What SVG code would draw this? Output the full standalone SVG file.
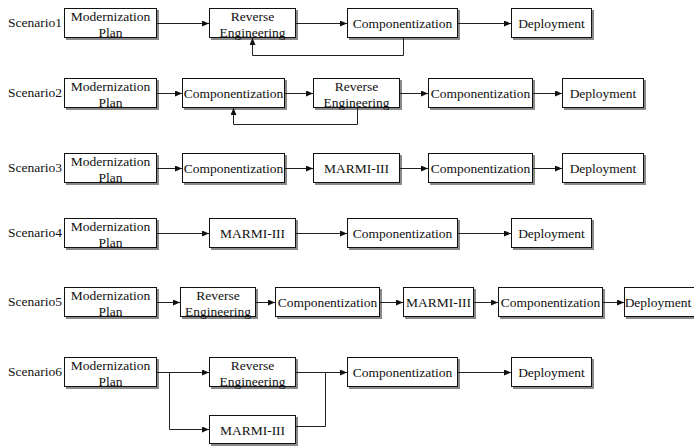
<svg xmlns="http://www.w3.org/2000/svg" width="694" height="446" viewBox="0 0 694 446">
  <defs>
    <marker id="arrow" markerWidth="7" markerHeight="6" refX="7" refY="3" orient="auto" markerUnits="userSpaceOnUse">
      <path d="M0,0 L7,3 L0,6 z" fill="#111"/>
    </marker>
  </defs>
  <style>
    .shadow { fill: #8a8a8a; }
    .box { fill: #ffffff; stroke: #111; stroke-width: 1; }
    text { font-family: 'Liberation Serif', 'DejaVu Serif', serif; font-size: 13.5px; fill: #111; }
    .t { text-anchor: middle; }
    .lbl { text-anchor: end; }
    .edge { fill: none; stroke: #222; stroke-width: 1; }
    .arr { marker-end: url(#arrow); }
  </style>
  <rect width="694" height="446" fill="#ffffff"/>

  <!-- row labels -->
  <g id="labels" font-family="Liberation Serif, serif">
    <text class="lbl" x="62" y="27">Scenario1</text>
    <text class="lbl" x="62" y="97">Scenario2</text>
    <text class="lbl" x="62" y="172">Scenario3</text>
    <text class="lbl" x="62" y="237">Scenario4</text>
    <text class="lbl" x="62" y="306">Scenario5</text>
    <text class="lbl" x="62" y="376">Scenario6</text>
  </g>

  <!-- Scenario 1 -->
  <g id="s1-plan"><rect class="shadow" x="66" y="10" width="93" height="30"/><rect class="box" x="64.5" y="8.5" width="92" height="29"/><text class="t" x="110.5" y="21">Modernization</text><text class="t" x="110.5" y="37">Plan</text></g>
  <g id="s1-reverse"><rect class="shadow" x="211" y="10" width="87" height="30"/><rect class="box" x="209.5" y="8.5" width="86" height="29"/><text class="t" x="252.5" y="21">Reverse</text><text class="t" x="252.5" y="37">Engineering</text></g>
  <g id="s1-comp"><rect class="shadow" x="349" y="10" width="111" height="30"/><rect class="box" x="347.5" y="8.5" width="110" height="29"/><text class="t" x="402.5" y="28">Componentization</text></g>
  <g id="s1-deploy"><rect class="shadow" x="513" y="10" width="81" height="30"/><rect class="box" x="511.5" y="8.5" width="80" height="29"/><text class="t" x="551.5" y="28">Deployment</text></g>

  <!-- Scenario 2 -->
  <g id="s2-plan"><rect class="shadow" x="66" y="80" width="93" height="30"/><rect class="box" x="64.5" y="78.5" width="92" height="29"/><text class="t" x="110.5" y="91">Modernization</text><text class="t" x="110.5" y="107">Plan</text></g>
  <g id="s2-comp1"><rect class="shadow" x="184" y="80" width="103" height="30"/><rect class="box" x="182.5" y="78.5" width="102" height="29"/><text class="t" x="233.5" y="98">Componentization</text></g>
  <g id="s2-reverse"><rect class="shadow" x="315" y="80" width="87" height="30"/><rect class="box" x="313.5" y="78.5" width="86" height="29"/><text class="t" x="356.5" y="91">Reverse</text><text class="t" x="356.5" y="107">Engineering</text></g>
  <g id="s2-comp2"><rect class="shadow" x="430" y="80" width="105" height="30"/><rect class="box" x="428.5" y="78.5" width="104" height="29"/><text class="t" x="480.5" y="98">Componentization</text></g>
  <g id="s2-deploy"><rect class="shadow" x="564" y="80" width="82" height="30"/><rect class="box" x="562.5" y="78.5" width="81" height="29"/><text class="t" x="603" y="98">Deployment</text></g>

  <!-- Scenario 3 -->
  <g id="s3-plan"><rect class="shadow" x="66" y="155" width="93" height="30"/><rect class="box" x="64.5" y="153.5" width="92" height="29"/><text class="t" x="110.5" y="166">Modernization</text><text class="t" x="110.5" y="182">Plan</text></g>
  <g id="s3-comp1"><rect class="shadow" x="184" y="155" width="103" height="30"/><rect class="box" x="182.5" y="153.5" width="102" height="29"/><text class="t" x="233.5" y="173">Componentization</text></g>
  <g id="s3-marmi"><rect class="shadow" x="315" y="155" width="87" height="30"/><rect class="box" x="313.5" y="153.5" width="86" height="29"/><text class="t" x="356.5" y="173">MARMI-III</text></g>
  <g id="s3-comp2"><rect class="shadow" x="430" y="155" width="105" height="30"/><rect class="box" x="428.5" y="153.5" width="104" height="29"/><text class="t" x="480.5" y="173">Componentization</text></g>
  <g id="s3-deploy"><rect class="shadow" x="564" y="155" width="82" height="30"/><rect class="box" x="562.5" y="153.5" width="81" height="29"/><text class="t" x="603" y="173">Deployment</text></g>

  <!-- Scenario 4 -->
  <g id="s4-plan"><rect class="shadow" x="66" y="220" width="93" height="30"/><rect class="box" x="64.5" y="218.5" width="92" height="29"/><text class="t" x="110.5" y="231">Modernization</text><text class="t" x="110.5" y="247">Plan</text></g>
  <g id="s4-marmi"><rect class="shadow" x="211" y="220" width="87" height="30"/><rect class="box" x="209.5" y="218.5" width="86" height="29"/><text class="t" x="252.5" y="238">MARMI-III</text></g>
  <g id="s4-comp"><rect class="shadow" x="349" y="220" width="111" height="30"/><rect class="box" x="347.5" y="218.5" width="110" height="29"/><text class="t" x="402.5" y="238">Componentization</text></g>
  <g id="s4-deploy"><rect class="shadow" x="513" y="220" width="81" height="30"/><rect class="box" x="511.5" y="218.5" width="80" height="29"/><text class="t" x="551.5" y="238">Deployment</text></g>

  <!-- Scenario 5 -->
  <g id="s5-plan"><rect class="shadow" x="66" y="289" width="93" height="30"/><rect class="box" x="64.5" y="287.5" width="92" height="29"/><text class="t" x="110.5" y="300">Modernization</text><text class="t" x="110.5" y="316">Plan</text></g>
  <g id="s5-reverse"><rect class="shadow" x="182" y="289" width="76" height="30"/><rect class="box" x="180.5" y="287.5" width="75" height="29"/><text class="t" x="218" y="300">Reverse</text><text class="t" x="218" y="316">Engineering</text></g>
  <g id="s5-comp1"><rect class="shadow" x="277" y="289" width="105" height="30"/><rect class="box" x="275.5" y="287.5" width="104" height="29"/><text class="t" x="327.5" y="307">Componentization</text></g>
  <g id="s5-marmi"><rect class="shadow" x="405" y="289" width="71" height="30"/><rect class="box" x="403.5" y="287.5" width="70" height="29"/><text class="t" x="438.5" y="307">MARMI-III</text></g>
  <g id="s5-comp2"><rect class="shadow" x="500" y="289" width="105" height="30"/><rect class="box" x="498.5" y="287.5" width="104" height="29"/><text class="t" x="550.5" y="307">Componentization</text></g>
  <g id="s5-deploy"><rect class="shadow" x="626" y="289" width="80" height="30"/><rect class="box" x="624.5" y="287.5" width="80" height="29"/><text class="t" x="658" y="307">Deployment</text></g>

  <!-- Scenario 6 -->
  <g id="s6-plan"><rect class="shadow" x="66" y="359" width="93" height="30"/><rect class="box" x="64.5" y="357.5" width="92" height="29"/><text class="t" x="110.5" y="370">Modernization</text><text class="t" x="110.5" y="386">Plan</text></g>
  <g id="s6-reverse"><rect class="shadow" x="211" y="359" width="87" height="30"/><rect class="box" x="209.5" y="357.5" width="86" height="29"/><text class="t" x="252.5" y="370">Reverse</text><text class="t" x="252.5" y="386">Engineering</text></g>
  <g id="s6-marmi"><rect class="shadow" x="211" y="417" width="87" height="29"/><rect class="box" x="209.5" y="415.5" width="86" height="28"/><text class="t" x="252.5" y="435">MARMI-III</text></g>
  <g id="s6-comp"><rect class="shadow" x="349" y="359" width="111" height="30"/><rect class="box" x="347.5" y="357.5" width="110" height="29"/><text class="t" x="402.5" y="377">Componentization</text></g>
  <g id="s6-deploy"><rect class="shadow" x="513" y="359" width="81" height="30"/><rect class="box" x="511.5" y="357.5" width="80" height="29"/><text class="t" x="551.5" y="377">Deployment</text></g>

  <!-- connectors -->
  <g id="connectors">
    <!-- Scenario 1 -->
    <path class="edge arr" d="M157,23.5 H209"/>
    <path class="edge arr" d="M296,23.5 H347"/>
    <path class="edge arr" d="M458,23.5 H511"/>
    <path class="edge arr" d="M403.5,38 V55.5 H252.5 V38"/>
    <!-- Scenario 2 -->
    <path class="edge arr" d="M157,93.5 H182"/>
    <path class="edge arr" d="M285,93.5 H313"/>
    <path class="edge arr" d="M400,93.5 H428"/>
    <path class="edge arr" d="M533,93.5 H562"/>
    <path class="edge arr" d="M357.5,108 V124.5 H233.5 V108"/>
    <!-- Scenario 3 -->
    <path class="edge arr" d="M157,168.5 H182"/>
    <path class="edge arr" d="M285,168.5 H313"/>
    <path class="edge arr" d="M400,168.5 H428"/>
    <path class="edge arr" d="M533,168.5 H562"/>
    <!-- Scenario 4 -->
    <path class="edge arr" d="M157,233.5 H209"/>
    <path class="edge arr" d="M296,233.5 H347"/>
    <path class="edge arr" d="M458,233.5 H511"/>
    <!-- Scenario 5 -->
    <path class="edge arr" d="M157,302.5 H180"/>
    <path class="edge arr" d="M256,302.5 H275"/>
    <path class="edge arr" d="M380,302.5 H403"/>
    <path class="edge arr" d="M474,302.5 H498"/>
    <path class="edge arr" d="M603,302.5 H624"/>
    <!-- Scenario 6 -->
    <path class="edge arr" d="M157,372.5 H209"/>
    <path class="edge arr" d="M169.5,372.5 V429.5 H209"/>
    <path class="edge" d="M296,372.5 H325.5"/>
    <path class="edge" d="M296,426.5 H325.5 V372.5"/>
    <path class="edge arr" d="M325.5,372.5 H347"/>
    <path class="edge arr" d="M458,372.5 H511"/>
  </g>
</svg>
